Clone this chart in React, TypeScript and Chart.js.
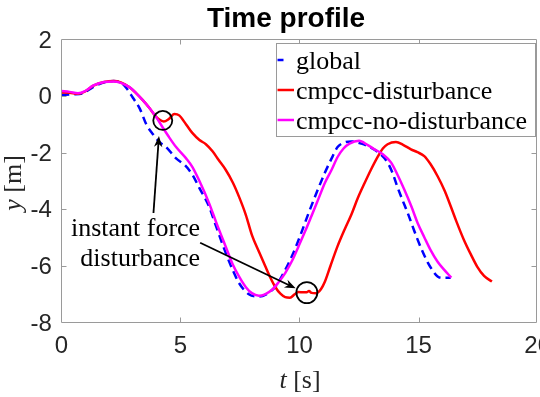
import React, { useEffect, useRef } from "react";
import { Chart, registerables } from "chart.js";

Chart.register(...registerables);

// ---------- data ----------
const globalT = [0, 0.5, 0.9, 1.3, 1.7, 2.2, 2.5, 2.74, 3.0, 3.3, 3.57, 3.85, 4.13, 4.4, 4.82, 5.2, 5.5, 5.8, 6.2, 6.5, 6.9, 7.2, 7.46, 7.875, 8.3, 8.6, 8.99, 9.3, 9.68, 10.0, 10.375, 10.7, 11.07, 11.35, 11.6, 11.85, 12.18, 12.6, 13.0, 13.4, 13.7, 13.9, 14.1, 14.3, 14.54, 14.75, 14.96, 15.2, 15.4, 15.6, 15.8, 16.0, 16.35];
const globalY = [0.05, 0.06, 0.1, 0.3, 0.46, 0.53, 0.48, 0.28, -0.05, -0.45, -1.0, -1.35, -1.63, -1.8, -2.2, -2.45, -2.77, -3.25, -3.89, -4.6, -5.53, -6.15, -6.6, -7.0, -7.08, -7.0, -6.73, -6.3, -5.66, -5.0, -4.15, -3.45, -2.7, -2.2, -1.8, -1.65, -1.6, -1.68, -1.82, -2.05, -2.35, -2.7, -3.18, -3.62, -4.12, -4.6, -5.07, -5.55, -5.9, -6.17, -6.37, -6.42, -6.42];

const distT = [0, 0.35, 0.7, 1.0, 1.35, 1.8, 2.2, 2.5, 2.85, 3.15, 3.43, 3.7, 3.95, 4.1, 4.3, 4.5, 4.75, 4.95, 5.24, 5.5, 5.8, 6.07, 6.35, 6.6, 6.9, 7.2, 7.46, 7.75, 8.0, 8.3, 8.57, 8.8, 8.99, 9.2, 9.4, 9.6, 9.8, 9.96, 10.15, 10.3, 10.4, 10.5, 10.7, 10.9, 11.07, 11.3, 11.6, 11.9, 12.18, 12.45, 12.74, 13.0, 13.3, 13.5, 13.7, 14.05, 14.35, 14.68, 14.95, 15.24, 15.5, 15.8, 16.1, 16.35, 16.6, 16.9, 17.2, 17.46, 17.75, 18.08];
const distY = [0.13, 0.12, 0.08, 0.17, 0.37, 0.5, 0.53, 0.48, 0.32, 0.1, -0.15, -0.42, -0.7, -0.82, -0.9, -0.82, -0.63, -0.68, -1.0, -1.3, -1.55, -1.7, -1.95, -2.25, -2.6, -3.05, -3.55, -4.2, -4.9, -5.5, -6.02, -6.45, -6.75, -6.98, -7.1, -7.12, -7.0, -6.92, -6.93, -6.93, -6.88, -6.95, -6.96, -6.82, -6.55, -6.0, -5.3, -4.7, -4.18, -3.6, -3.06, -2.6, -2.12, -1.85, -1.7, -1.62, -1.72, -1.88, -1.98, -2.12, -2.4, -2.83, -3.35, -3.89, -4.45, -5.07, -5.6, -6.02, -6.35, -6.55];

const noDistT = [0, 0.35, 0.7, 1.0, 1.35, 1.8, 2.18, 2.5, 2.875, 3.15, 3.43, 3.7, 3.99, 4.26, 4.5, 4.82, 5.24, 5.5, 5.8, 6.2, 6.5, 6.9, 7.2, 7.46, 7.75, 8.0, 8.3, 8.55, 8.85, 9.1, 9.4, 9.7, 9.96, 10.25, 10.5, 10.8, 11.07, 11.35, 11.6, 11.85, 12.1, 12.5, 12.85, 13.15, 13.5, 13.85, 14.1, 14.4, 14.7, 14.96, 15.25, 15.5, 15.8, 16.07, 16.375];
const noDistY = [0.18, 0.15, 0.1, 0.18, 0.38, 0.5, 0.52, 0.47, 0.31, 0.1, -0.15, -0.42, -0.75, -1.11, -1.42, -1.8, -2.2, -2.5, -3.0, -3.77, -4.45, -5.31, -5.95, -6.37, -6.75, -6.96, -7.05, -7.0, -6.84, -6.6, -6.25, -5.8, -5.31, -4.75, -4.24, -3.62, -3.06, -2.6, -2.15, -1.85, -1.68, -1.58, -1.72, -1.88, -2.05, -2.35, -2.75, -3.3, -3.9, -4.48, -5.0, -5.43, -5.85, -6.13, -6.41];

const seriesNames = ["global", "cmpcc-disturbance", "cmpcc-no-disturbance"];
const seriesColors = ["#0000ff", "#ff0000", "#ff00ff"];

const xTicks = [0, 5, 10, 15, 20];
const yTicks = [-8, -6, -4, -2, 0, 2];

const titleText = "Time profile";
const xLabelVar = "t";
const xLabelUnit = " [s]";
const yLabelVar = "y";
const yLabelUnit = " [m]";

// annotations (data units)
const circleT = [4.26, 10.31];
const circleY = [-0.86, -6.94];
const arrowFromT = [3.87, 5.83];
const arrowFromY = [-4.13, -5.18];
const arrowToT = [4.1, 9.84];
const arrowToY = [-1.41, -6.79];
const noteLines = ["instant force", "disturbance"];
const noteT = 5.83;
const noteY = -4.94;

const SANS = "'Liberation Sans', Arial, Helvetica, sans-serif";
const SERIF = "'Liberation Serif', 'Times New Roman', serif";

function drawArrow(ctx: CanvasRenderingContext2D, x1: number, y1: number, x2: number, y2: number) {
  const ang = Math.atan2(y2 - y1, x2 - x1);
  const len = 11;
  const hw = 4.2;
  const bx = x2 - Math.cos(ang) * len;
  const by = y2 - Math.sin(ang) * len;
  ctx.beginPath();
  ctx.moveTo(x1, y1);
  ctx.lineTo(x2 - Math.cos(ang) * 6, y2 - Math.sin(ang) * 6);
  ctx.stroke();
  const px = -Math.sin(ang), py = Math.cos(ang);
  const nx = x2 - Math.cos(ang) * (len * 0.7);
  const ny = y2 - Math.sin(ang) * (len * 0.7);
  ctx.beginPath();
  ctx.moveTo(x2, y2);
  ctx.lineTo(bx + px * hw, by + py * hw);
  ctx.lineTo(nx, ny);
  ctx.lineTo(bx - px * hw, by - py * hw);
  ctx.closePath();
  ctx.fill();
}

const decor = {
  id: "decor",
  afterDraw(chart: any) {
    const { ctx, chartArea: a, scales } = chart;
    const xs = scales.x;
    const ys = scales.y;
    ctx.save();

    // axes box
    const L = Math.floor(a.left) + 0.5;
    const R = Math.floor(a.right) - 0.5;
    const T = Math.floor(a.top) + 0.5;
    const B = Math.floor(a.bottom) + 0.5;
    ctx.strokeStyle = "#9a9a9a";
    ctx.lineWidth = 1;
    ctx.beginPath();
    ctx.rect(L, T, R - L, B - T);
    ctx.stroke();
    // inward ticks
    ctx.beginPath();
    xTicks.forEach((v) => {
      const px = Math.round(xs.getPixelForValue(v)) + 0.5;
      if (px <= L + 1 || px >= R - 1) return;
      ctx.moveTo(px, B); ctx.lineTo(px, B - 5);
      ctx.moveTo(px, T); ctx.lineTo(px, T + 5);
    });
    yTicks.forEach((v) => {
      const py = Math.round(ys.getPixelForValue(v)) + 0.5;
      if (py <= T + 1 || py >= B - 1) return;
      ctx.moveTo(L, py); ctx.lineTo(L + 5, py);
      ctx.moveTo(R, py); ctx.lineTo(R - 5, py);
    });
    ctx.stroke();

    // annotations
    ctx.strokeStyle = "#000";
    ctx.fillStyle = "#000";
    ctx.lineWidth = 1.8;
    const radii = [9.5, 10.5];
    circleT.forEach((t, i) => {
      ctx.beginPath();
      ctx.arc(xs.getPixelForValue(t), ys.getPixelForValue(circleY[i]), radii[i], 0, Math.PI * 2);
      ctx.stroke();
    });
    ctx.lineWidth = 1.8;
    arrowFromT.forEach((t, i) => {
      drawArrow(ctx, xs.getPixelForValue(t), ys.getPixelForValue(arrowFromY[i]), xs.getPixelForValue(arrowToT[i]), ys.getPixelForValue(arrowToY[i]));
    });
    ctx.font = `26px ${SERIF}`;
    ctx.textAlign = "right";
    ctx.textBaseline = "alphabetic";
    const nx = xs.getPixelForValue(noteT);
    const ny = ys.getPixelForValue(noteY);
    noteLines.forEach((s, i) => ctx.fillText(s, nx, ny + i * 30));

    // legend
    const lx = 276.5, ly = 43.5, lw = 259, lh = 93;
    ctx.fillStyle = "#fff";
    ctx.fillRect(lx, ly, lw, lh);
    ctx.strokeStyle = "#9a9a9a";
    ctx.lineWidth = 1;
    ctx.strokeRect(lx, ly, lw, lh);
    ctx.textAlign = "left";
    seriesNames.forEach((name, i) => {
      const base = 69 + i * 30;
      ctx.strokeStyle = seriesColors[i];
      ctx.lineWidth = 2.5;
      ctx.setLineDash(i === 0 ? [6, 30] : []);
      ctx.beginPath();
      ctx.moveTo(277.5, base - 9);
      ctx.lineTo(294, base - 9);
      ctx.stroke();
      ctx.setLineDash([]);
      ctx.fillStyle = "#000";
      ctx.fillText(name, 296, base);
    });

    // title
    ctx.fillStyle = "#000";
    ctx.font = `bold 28px ${SANS}`;
    ctx.textAlign = "center";
    ctx.fillText(titleText, 286, 27);

    // x label
    ctx.fillStyle = "#262626";
    ctx.font = `italic 26px ${SERIF}`;
    const wv = ctx.measureText(xLabelVar).width;
    ctx.font = `26px ${SERIF}`;
    const wu = ctx.measureText(xLabelUnit).width;
    const xc = 300;
    let sx = xc - (wv + wu) / 2;
    ctx.textAlign = "left";
    ctx.font = `italic 26px ${SERIF}`;
    ctx.fillText(xLabelVar, sx, 388);
    ctx.font = `26px ${SERIF}`;
    ctx.fillText(xLabelUnit, sx + wv, 388);

    // y label
    ctx.save();
    ctx.translate(21, 183);
    ctx.rotate(-Math.PI / 2);
    ctx.font = `italic 26px ${SERIF}`;
    const yv = ctx.measureText(yLabelVar).width;
    ctx.font = `26px ${SERIF}`;
    const yu = ctx.measureText(yLabelUnit).width;
    const s0 = -(yv + yu) / 2;
    ctx.font = `italic 26px ${SERIF}`;
    ctx.fillText(yLabelVar, s0, 0);
    ctx.font = `26px ${SERIF}`;
    ctx.fillText(yLabelUnit, s0 + yv, 0);
    ctx.restore();

    ctx.restore();
  },
};

export default function App() {
  const ref = useRef<HTMLCanvasElement | null>(null);
  useEffect(() => {
    document.documentElement.style.overflow = "hidden";
    document.body.style.overflow = "hidden";
    document.body.style.margin = "0";
    const canvas = ref.current;
    if (!canvas) return;
    const mk = (ts: number[], vs: number[]) => ts.map((t, i) => ({ x: t, y: vs[i] }));
    const common = { pointRadius: 0, borderWidth: 2.5, fill: false, cubicInterpolationMode: "monotone" as const };
    const chart = new Chart(canvas, {
      type: "line",
      data: {
        datasets: [
          { ...common, label: seriesNames[0], data: mk(globalT, globalY), borderColor: seriesColors[0], borderDash: [8, 5], order: 3 },
          { ...common, label: seriesNames[1], data: mk(distT, distY), borderColor: seriesColors[1], order: 2 },
          { ...common, label: seriesNames[2], data: mk(noDistT, noDistY), borderColor: seriesColors[2], order: 1 },
        ],
      },
      options: {
        responsive: false,
        animation: false,
        devicePixelRatio: 1,
        layout: { padding: { top: 39.5, right: 19.5, bottom: 0, left: 0 } },
        plugins: { legend: { display: false }, title: { display: false }, tooltip: { enabled: false } },
        scales: {
          x: {
            type: "linear",
            min: 0,
            max: 20,
            afterFit: (s: any) => { s.height = 74.4; },
            afterBuildTicks: (s: any) => { s.ticks = xTicks.map((v) => ({ value: v })); },
            ticks: { font: { family: SANS, size: 24 }, color: "#262626", padding: 9, maxRotation: 0, autoSkip: false },
            grid: { display: false, drawTicks: false },
            border: { display: false },
          },
          y: {
            type: "linear",
            min: -8,
            max: 2,
            afterFit: (s: any) => { s.width = 61.3; },
            afterBuildTicks: (s: any) => { s.ticks = yTicks.map((v) => ({ value: v })); },
            ticks: { font: { family: SANS, size: 24 }, color: "#262626", padding: 9.5, labelOffset: 1.5, autoSkip: false },
            grid: { display: false, drawTicks: false },
            border: { display: false },
          },
        },
      },
      plugins: [decor],
    });
    return () => chart.destroy();
  }, []);
  return (
    <div style={{ position: "fixed", left: 0, top: 0, width: 560, height: 397, background: "#fff" }}>
      <canvas ref={ref} width={560} height={397} style={{ display: "block", width: 560, height: 397 }} />
    </div>
  );
}
